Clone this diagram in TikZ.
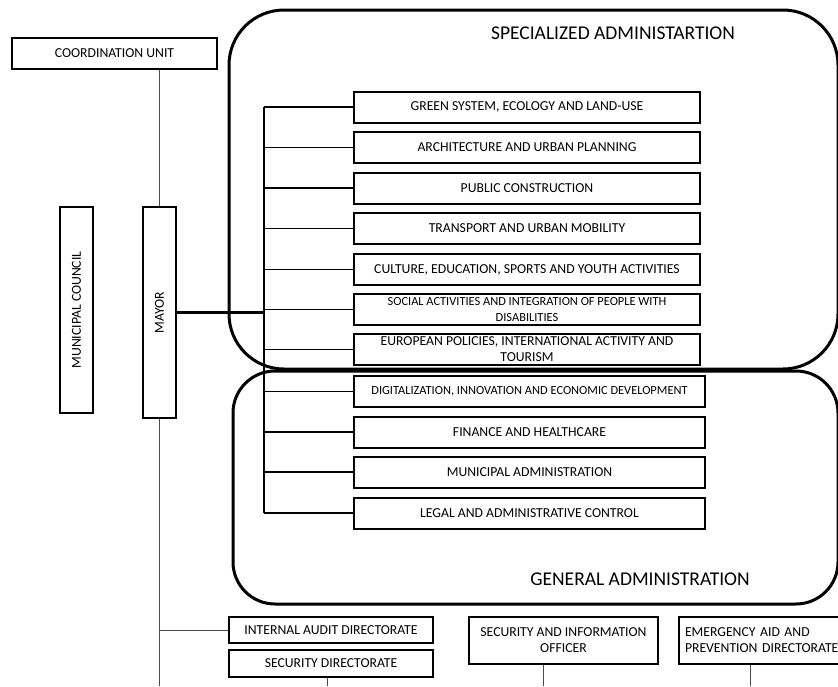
\documentclass[tikz,border=0pt]{standalone}
\usepackage{fontspec}
\setmainfont{Carlito}
\begin{document}
\begin{tikzpicture}[x=1pt,y=-1pt,
  box/.style={draw,line width=2pt,inner sep=1pt,align=center,font=\fontsize{13.7}{16}\selectfont},
  dept/.style={box,anchor=west,minimum height=31pt},
  link/.style={line width=0.9pt,black!70},
  area/.style={line width=3pt},
  areatitle/.style={font=\fontsize{19.5}{22}\selectfont}]
\clip (0,0) rectangle (838,686);
\useasboundingbox (0,0) rectangle (838,686);
\draw[area,rounded corners=55pt] (229,10) rectangle (838,369);
\draw[area,rounded corners=42pt] (233,371) rectangle (838,604);
\node[areatitle] (spectitle) at (613,33) {SPECIALIZED ADMINISTARTION};
\node[areatitle] (gentitle) at (640,579) {GENERAL ADMINISTRATION};

\node[box,minimum width=205pt,minimum height=31pt] (coord) at (114.5,53.5) {COORDINATION UNIT};
\node[box,rotate=90,minimum width=206pt,minimum height=33pt] (council) at (76.5,310) {MUNICIPAL COUNCIL};
\node[box,rotate=90,minimum width=211pt,minimum height=33pt] (mayor) at (159.5,312.5) {MAYOR};

\coordinate (bus) at (264,0);
\foreach \n/\y/\w/\t in {
  green/107/346/{GREEN SYSTEM, ECOLOGY AND LAND-USE},
  arch/147.5/346/{ARCHITECTURE AND URBAN PLANNING},
  public/188/346/{PUBLIC CONSTRUCTION},
  transp/228.5/346/{TRANSPORT AND URBAN MOBILITY},
  cult/269.5/346/{CULTURE, EDUCATION, SPORTS AND YOUTH ACTIVITIES},
  social/309.5/346/{\fontsize{12.4}{15}\selectfont SOCIAL ACTIVITIES AND INTEGRATION OF PEOPLE WITH\\ \fontsize{12.4}{15}\selectfont DISABILITIES},
  europ/349.5/346/{EUROPEAN POLICIES, INTERNATIONAL ACTIVITY AND\\ TOURISM},
  digit/391.5/351/{\fontsize{12.4}{14}\selectfont DIGITALIZATION, INNOVATION AND ECONOMIC DEVELOPMENT},
  fin/432/351/{FINANCE AND HEALTHCARE},
  munic/472/351/{MUNICIPAL ADMINISTRATION},
  legal/513/351/{LEGAL AND ADMINISTRATIVE CONTROL}}
{
  \node[dept,minimum width=\w pt] (\n) at (353,\y) {\t};
  \draw[line width=1.2pt] (\n.west) -- (\n.west -| bus);
}
\draw[line width=1.2pt] (green.west -| bus) -- (legal.west -| bus);
\draw[line width=2.4pt] (mayor.south) -- (mayor.south -| bus);

\node[box,minimum width=204pt,minimum height=26pt] (audit) at (331,630) {INTERNAL AUDIT DIRECTORATE};
\node[box,minimum width=204pt,minimum height=27pt] (secdir) at (331,663.5) {SECURITY DIRECTORATE};
\node[box,minimum width=189pt,minimum height=47pt] (secinfo) at (563.5,640.5) {SECURITY AND INFORMATION\\ OFFICER};
\node[box,anchor=west,align=left,text width=160pt,minimum height=47pt,inner xsep=6pt] (emerg) at (678,640.5) {EMERGENCY AID AND\\ PREVENTION DIRECTORATE};

\coordinate (bottom) at (0,686);
\draw[link] (mayor.east) -- (mayor.east |- coord.south);
\draw[link] (mayor.west) -- (mayor.west |- bottom);
\draw[link] (audit.west) -- (audit.west -| mayor.west);
\draw[link] (secdir.south -| 327,0) -- (327,686);
\draw[link] (secinfo.south -| 543,0) -- (543,686);
\draw[link] (emerg.south -| 750,0) -- (750,686);
\end{tikzpicture}
\end{document}
